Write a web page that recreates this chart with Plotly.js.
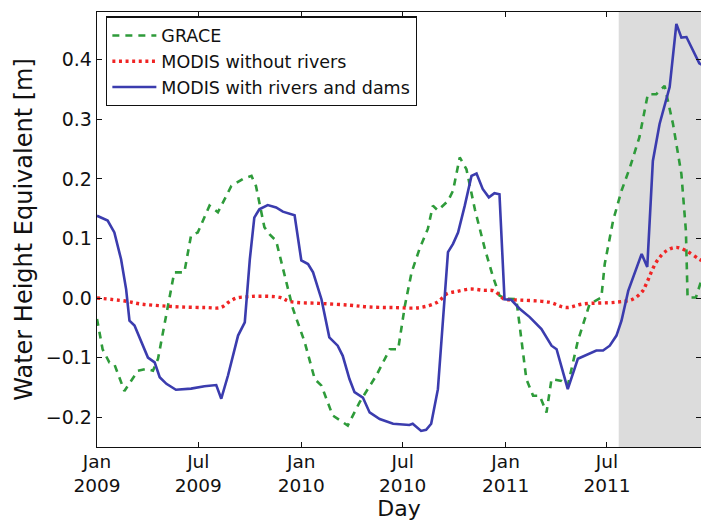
<!DOCTYPE html>
<html>
<head>
<meta charset="utf-8">
<script src="https://cdn.plot.ly/plotly-3.0.1.min.js"></script>
<style>html,body{margin:0;padding:0;background:#fff;overflow:hidden;}#chart{width:701px;height:521px;}</style>
</head>
<body>
<div id="chart"></div>
<script>
// ---- data ----
const graceDates = ["2009-01-01","2009-01-11","2009-01-23","2009-02-01","2009-02-19","2009-03-15","2009-03-30","2009-04-11","2009-04-20","2009-05-05","2009-05-19","2009-06-06","2009-06-18","2009-06-30","2009-07-21","2009-08-05","2009-08-29","2009-09-19","2009-10-04","2009-10-12","2009-10-27","2009-11-05","2009-11-17","2009-12-17","2010-01-07","2010-01-25","2010-02-06","2010-02-26","2010-03-25","2010-04-15","2010-05-15","2010-06-08","2010-06-23","2010-07-05","2010-07-17","2010-07-31","2010-08-15","2010-08-24","2010-09-02","2010-09-20","2010-09-29","2010-10-11","2010-10-23","2010-11-07","2010-11-25","2010-12-09","2010-12-21","2011-01-02","2011-01-20","2011-01-26","2011-02-07","2011-02-19","2011-03-03","2011-03-15","2011-03-24","2011-04-11","2011-04-22","2011-05-10","2011-05-31","2011-06-21","2011-06-27","2011-07-12","2011-07-27","2011-08-11","2011-08-28","2011-09-12","2011-09-27","2011-10-12","2011-10-27","2011-11-11","2011-11-19","2011-11-22","2011-12-07","2011-12-20"];
const graceValues = [-0.035,-0.086,-0.108,-0.111,-0.156,-0.122,-0.119,-0.122,-0.102,-0.030,0.043,0.043,0.105,0.110,0.155,0.144,0.188,0.200,0.205,0.188,0.119,0.107,0.096,-0.018,-0.074,-0.136,-0.147,-0.197,-0.214,-0.175,-0.130,-0.086,-0.086,-0.013,0.043,0.082,0.116,0.155,0.147,0.163,0.180,0.236,0.216,0.149,0.082,0.037,0.004,-0.001,-0.002,-0.046,-0.136,-0.164,-0.164,-0.192,-0.136,-0.139,-0.147,-0.072,-0.010,0.001,0.057,0.130,0.180,0.219,0.270,0.342,0.342,0.356,0.292,0.208,0.113,0.001,0.001,0.040];

const noRiverDates = ["2009-01-01","2009-02-20","2009-03-20","2009-04-25","2009-06-01","2009-07-15","2009-08-10","2009-08-24","2009-09-07","2009-09-25","2009-10-15","2009-11-24","2009-12-12","2010-02-02","2010-03-28","2010-05-01","2010-06-15","2010-08-01","2010-09-01","2010-09-18","2010-10-06","2010-10-30","2010-11-22","2010-12-11","2010-12-30","2011-01-15","2011-03-19","2011-04-19","2011-05-19","2011-07-17","2011-08-16","2011-09-03","2011-09-09","2011-09-27","2011-10-15","2011-11-02","2011-11-20","2011-12-13","2011-12-20"];
const noRiverValues = [0.000,-0.005,-0.010,-0.013,-0.015,-0.016,-0.016,-0.007,0.000,0.002,0.003,0.001,-0.006,-0.009,-0.012,-0.015,-0.016,-0.016,-0.007,0.007,0.011,0.015,0.013,0.012,-0.002,-0.003,-0.007,-0.016,-0.010,-0.007,-0.002,0.012,0.023,0.060,0.079,0.085,0.079,0.065,0.062];

const riverDates = ["2009-01-01","2009-01-20","2009-02-01","2009-02-13","2009-02-22","2009-02-28","2009-03-09","2009-03-21","2009-04-02","2009-04-14","2009-04-23","2009-05-05","2009-05-22","2009-06-18","2009-07-12","2009-08-02","2009-08-11","2009-08-23","2009-09-10","2009-09-22","2009-10-01","2009-10-09","2009-10-18","2009-11-02","2009-11-17","2009-11-29","2009-12-20","2010-01-01","2010-01-13","2010-01-22","2010-02-06","2010-02-20","2010-03-07","2010-03-16","2010-03-28","2010-04-06","2010-04-21","2010-05-03","2010-05-21","2010-06-14","2010-07-13","2010-07-19","2010-08-03","2010-08-12","2010-08-21","2010-09-02","2010-09-11","2010-09-20","2010-09-29","2010-10-08","2010-10-20","2010-11-01","2010-11-10","2010-11-21","2010-12-02","2010-12-12","2010-12-21","2010-12-30","2011-01-11","2011-01-26","2011-02-13","2011-03-06","2011-03-24","2011-04-02","2011-04-17","2011-04-22","2011-05-10","2011-05-28","2011-06-12","2011-06-24","2011-07-06","2011-07-18","2011-07-27","2011-08-08","2011-08-17","2011-09-01","2011-09-11","2011-09-21","2011-10-03","2011-10-15","2011-10-21","2011-11-02","2011-11-11","2011-11-20","2011-12-13","2011-12-20"];
const riverValues = [0.138,0.130,0.110,0.065,0.015,-0.038,-0.046,-0.074,-0.100,-0.108,-0.133,-0.144,-0.154,-0.152,-0.148,-0.146,-0.169,-0.130,-0.063,-0.041,0.065,0.135,0.149,0.156,0.152,0.145,0.139,0.063,0.057,0.043,-0.002,-0.066,-0.080,-0.097,-0.136,-0.158,-0.167,-0.192,-0.203,-0.211,-0.213,-0.211,-0.223,-0.221,-0.211,-0.153,-0.030,0.077,0.091,0.110,0.155,0.205,0.209,0.183,0.169,0.176,0.174,-0.002,-0.003,-0.018,-0.032,-0.052,-0.080,-0.086,-0.136,-0.153,-0.102,-0.094,-0.088,-0.088,-0.080,-0.063,-0.038,0.012,0.035,0.074,0.052,0.230,0.292,0.331,0.354,0.460,0.437,0.438,0.394,0.390];

const seriesNames = ["GRACE", "MODIS without rivers", "MODIS with rivers and dams"];
const shadeStart = "2011-07-22";
const xRange = ["2009-01-01", "2011-12-16"];
const yRange = [-0.25, 0.48];

// ---- chart ----
const FONT = "DejaVu Sans, Liberation Sans, sans-serif";
const traces = [
  {x: graceDates, y: graceValues, name: seriesNames[0], type: "scatter", mode: "lines",
   line: {color: "#2e9b3a", width: 2.6, dash: "7px,6px"}},
  {x: noRiverDates, y: noRiverValues, name: seriesNames[1], type: "scatter", mode: "lines",
   line: {color: "#f02424", width: 3.4, dash: "3px,3.6px", shape: "spline"}},
  {x: riverDates, y: riverValues, name: seriesNames[2], type: "scatter", mode: "lines",
   line: {color: "#3b3cae", width: 2.6}}
];

const layout = {
  width: 701, height: 521,
  margin: {l: 97, r: 0, t: 12, b: 74, pad: 0},
  paper_bgcolor: "#ffffff", plot_bgcolor: "rgba(0,0,0,0)",
  font: {family: FONT, color: "#111", size: 18.5},
  showlegend: true,
  legend: {x: 0.015, y: 0.99, xanchor: "left", yanchor: "top",
    bgcolor: "#ffffff", bordercolor: "#111", borderwidth: 1.3, itemwidth: 44,
    font: {family: FONT, size: 17.5, color: "#111"}},
  xaxis: {
    type: "date", range: xRange,
    tick0: "2009-01-01", dtick: "M6", tickformat: "%b<br>%Y",
    ticks: "inside", ticklen: 5, tickwidth: 1, tickcolor: "#111",
    ticklabelstandoff: -3,
    showline: true, linecolor: "#111", linewidth: 1.3, mirror: "ticks",
    showgrid: false, zeroline: false,
    tickfont: {family: FONT, size: 18.5, color: "#111"},
    title: {text: "Day", font: {family: FONT, size: 22, color: "#111"}, standoff: 8}
  },
  yaxis: {
    range: yRange, dtick: 0.1, tick0: 0, tickformat: ".1f",
    ticks: "inside", ticklen: 5, tickwidth: 1, tickcolor: "#111",
    showline: true, linecolor: "#111", linewidth: 1.3, mirror: "ticks",
    showgrid: false, zeroline: false,
    tickfont: {family: FONT, size: 19, color: "#111"},
    title: {text: "Water Height Equivalent [m]", font: {family: FONT, size: 24, color: "#111"}, standoff: 6}
  },
  shapes: [{type: "rect", xref: "x", yref: "paper", x0: shadeStart, x1: xRange[1], y0: 0, y1: 1,
    fillcolor: "#dcdcdc", line: {width: 0}, layer: "below"}]
};

Plotly.newPlot("chart", traces, layout, {displayModeBar: false, staticPlot: true});
</script>
</body>
</html>
